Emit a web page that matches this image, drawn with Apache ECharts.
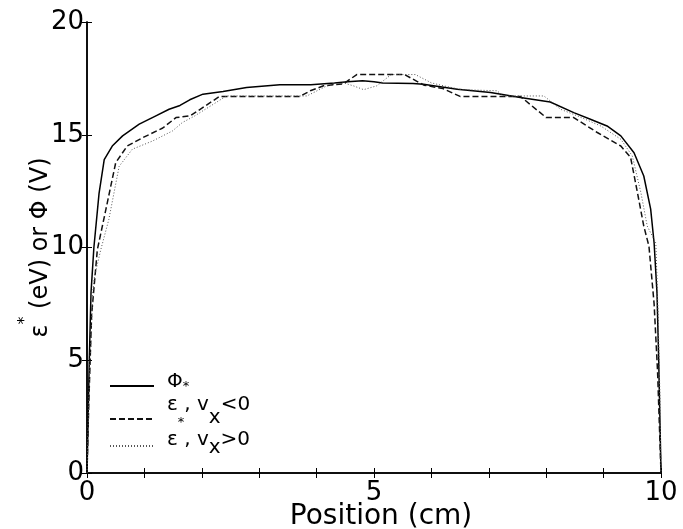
<!DOCTYPE html>
<html>
<head>
<meta charset="utf-8">
<script src="https://cdn.jsdelivr.net/npm/echarts@6/dist/echarts.min.js"></script>
<style>
  html, body { margin: 0; padding: 0; background: #fff; }
  #chart { width: 683px; height: 529px; }
</style>
</head>
<body>
<div id="chart"></div>
<script>
// position (cm) / energy or potential
const phiX = [0, 0.02, 0.04, 0.07, 0.12, 0.21, 0.3, 0.44, 0.62, 0.91, 1.2, 1.43, 1.62, 1.79, 2.02, 2.37, 2.78, 3.36, 3.9, 4.31, 4.54, 4.8, 5.0, 5.15, 5.68, 5.86, 6.45, 7.03, 7.55, 8.07, 8.48, 8.77, 9.06, 9.3, 9.53, 9.7, 9.82, 9.88, 9.93, 9.96, 9.98, 10]
const phiY = [0, 2.5, 5, 8, 10, 12.4, 13.9, 14.5, 14.95, 15.47, 15.84, 16.13, 16.3, 16.55, 16.8, 16.92, 17.1, 17.22, 17.22, 17.3, 17.35, 17.4, 17.35, 17.3, 17.27, 17.24, 17.02, 16.87, 16.65, 16.45, 15.98, 15.69, 15.39, 14.95, 14.2, 13.17, 11.7, 10.2, 8, 5, 2.5, 0]

const negX = [0, 0.03, 0.08, 0.18, 0.33, 0.5, 0.7, 0.97, 1.32, 1.55, 1.8, 2.31, 3.71, 3.89, 4.12, 4.47, 4.7, 5.53, 5.87, 6.2, 6.5, 7.55, 8.0, 8.48, 8.89, 9.3, 9.47, 9.59, 9.7, 9.79, 9.88, 9.94, 9.98, 10]
const negY = [0, 3, 7, 9.9, 11.7, 13.76, 14.5, 14.87, 15.3, 15.76, 15.84, 16.7, 16.7, 16.95, 17.17, 17.26, 17.67, 17.67, 17.2, 17.05, 16.7, 16.7, 15.76, 15.76, 15.1, 14.5, 14.0, 12.43, 10.95, 10.06, 7.5, 4.5, 1.5, 0]

const posX = [0, 0.04, 0.1, 0.13, 0.24, 0.38, 0.56, 0.79, 1.14, 1.49, 1.66, 1.88, 2.43, 3.83, 4.18, 4.47, 4.64, 4.82, 5.05, 5.3, 5.72, 6.0, 6.21, 6.53, 7.14, 7.26, 7.96, 8.07, 8.25, 8.54, 8.95, 9.3, 9.5, 9.65, 9.76, 9.91, 9.95, 9.98, 10]
const posY = [0, 4, 8, 8.7, 9.9, 11.24, 13.6, 14.36, 14.72, 15.17, 15.54, 15.84, 16.72, 16.72, 17.17, 17.3, 17.17, 17.0, 17.17, 17.67, 17.67, 17.3, 17.17, 17.0, 16.95, 16.72, 16.72, 16.5, 16.13, 15.84, 15.39, 14.8, 14.06, 12.43, 10.95, 10.2, 7, 3.5, 0]

const xTickLabels = [0, 5, 10]
const yTickLabels = [0, 5, 10, 15, 20]

const FONT = "DejaVu Sans"
const pair = (xs, ys) => xs.map((x, i) => [x, ys[i]])

const legendText = {
  phi: "{g1| }{a1|Φ}{s1|*}",
  neg: "{g2| }{a2|ε}{s2|*}{a2|, v}{x2|x}{a2|<0}",
  pos: "{g1| }{a3|ε , v}{x3|x}{a3|>0}"
}

const legendRich = {
  g1: { width: 8, fontSize: 10, lineHeight: 36 },
  g2: { width: 8, fontSize: 10, lineHeight: 48 },
  a1: { fontFamily: FONT, fontSize: 20, verticalAlign: "top", padding: [4, 0, 0, 0] },
  s1: { fontFamily: FONT, fontSize: 13, verticalAlign: "bottom", padding: [0, 0, 11, 0] },
  a2: { fontFamily: FONT, fontSize: 20, verticalAlign: "top" },
  s2: { fontFamily: FONT, fontSize: 13, verticalAlign: "bottom", padding: [0, 0, 14, 0] },
  x2: { fontFamily: FONT, fontSize: 20, verticalAlign: "top", padding: [13, 0, 0, 0] },
  a3: { fontFamily: FONT, fontSize: 20, verticalAlign: "top", padding: [2, 0, 0, 0] },
  x3: { fontFamily: FONT, fontSize: 20, verticalAlign: "top", padding: [10, 0, 0, 0] }
}

// one legend per entry so each row can sit where the picture has it
const legendRow = (name, top) => ({
  orient: "vertical",
  left: 109,
  top: top,
  padding: 0,
  itemWidth: 44,
  itemHeight: 14,
  itemStyle: { opacity: 0 },
  data: [name],
  formatter: n => legendText[n],
  textStyle: { color: "#000", fontFamily: FONT, fontSize: 20, rich: legendRich }
})

const frameAxis = {
  min: 0,
  max: 10,
  interval: 5,
  axisLine: { lineStyle: { color: "#000", width: 1.5 } },
  axisTick: { inside: true, length: 5, lineStyle: { color: "#000", width: 1 } },
  minorTick: { show: true, splitNumber: 5, length: 5, lineStyle: { color: "#000", width: 1 } },
  splitLine: { show: false }
}

const chart = echarts.init(document.getElementById("chart"))
chart.setOption({
  backgroundColor: "#fff",
  animation: false,
  grid: { left: 87, right: 22, top: 22, bottom: 56, outerBoundsMode: "none" },
  xAxis: [
    {
      ...frameAxis,
      type: "value",
      position: "bottom",
      name: "Position (cm)",
      nameLocation: "middle",
      nameGap: 30,
      nameMoveOverlap: false,
      nameTextStyle: { color: "#000", fontFamily: FONT, fontSize: 28, padding: [0, 0, 0, 14] },
      axisLabel: {
        color: "#000", fontFamily: FONT, fontSize: 26, margin: 7,
        formatter: v => xTickLabels.includes(v) ? String(v) : ""
      }
    },
    {
      ...frameAxis,
      type: "value",
      position: "top",
      axisLabel: { show: false }
    }
  ],
  yAxis: [
    {
      type: "value",
      min: 0, max: 20, interval: 5,
      position: "left",
      name: "{e|ε}{sup|*}{t| (eV) or Φ (V)}",
      nameLocation: "middle",
      nameGap: 20,
      nameMoveOverlap: false,
      nameTextStyle: {
        color: "#000", fontFamily: FONT, fontSize: 24,
        rich: {
          e: { fontFamily: FONT, fontSize: 24, lineHeight: 52 },
          t: { fontFamily: FONT, fontSize: 24, lineHeight: 52 },
          sup: { fontFamily: FONT, fontSize: 16, lineHeight: 16, verticalAlign: "top", padding: [2, 0, 0, 0] }
        }
      },
      axisLine: { show: true, lineStyle: { color: "#000", width: 1.5 } },
      axisTick: { show: true, inside: true, length: 5, lineStyle: { color: "#000" } },
      axisLabel: {
        color: "#000", fontFamily: FONT, fontSize: 26, margin: 3,
        formatter: v => yTickLabels.includes(v) ? String(v) : ""
      },
      splitLine: { show: false }
    },
    {
      type: "value",
      min: 0, max: 20, interval: 5,
      position: "right",
      axisLine: { show: true, lineStyle: { color: "#000", width: 1.5 } },
      axisTick: { show: true, inside: true, length: 5, lineStyle: { color: "#000" } },
      axisLabel: { show: false },
      splitLine: { show: false }
    }
  ],
  legend: [
    legendRow("phi", 372),
    legendRow("neg", 395),
    legendRow("pos", 430)
  ],
  series: [
    {
      name: "phi", type: "line", data: pair(phiX, phiY),
      showSymbol: false, symbol: "none",
      lineStyle: { color: "#000", width: 1.5, type: "solid" },
      itemStyle: { color: "#000" }
    },
    {
      name: "neg", type: "line", data: pair(negX, negY),
      showSymbol: false, symbol: "none",
      lineStyle: { color: "#111", width: 1.5, type: [6, 3] },
      itemStyle: { color: "#111" }
    },
    {
      name: "pos", type: "line", data: pair(posX, posY),
      showSymbol: false, symbol: "none",
      lineStyle: { color: "#555", width: 1, type: [1, 2] },
      itemStyle: { color: "#555" }
    }
  ]
})
</script>
</body>
</html>
